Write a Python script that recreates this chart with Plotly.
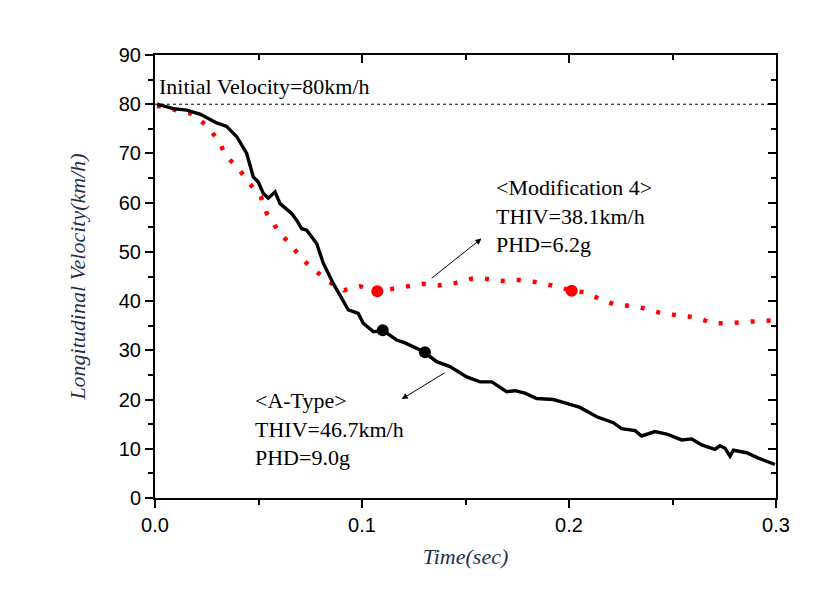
import plotly.graph_objects as go

# A-Type (black solid)
a_t = [0.001, 0.0088, 0.0153, 0.0217, 0.0298, 0.0346, 0.0395, 0.0443, 0.0475, 0.0499, 0.0523,
       0.0547, 0.058, 0.0604, 0.066, 0.0685, 0.0709, 0.0733, 0.0781, 0.0813, 0.0861, 0.091,
       0.0934, 0.0982, 0.1006, 0.1055, 0.1103, 0.1167, 0.1208, 0.1264, 0.1304, 0.1361, 0.1425,
       0.1506, 0.157, 0.1627, 0.1699, 0.1739, 0.1787, 0.1844, 0.1924, 0.1989, 0.2053, 0.2134,
       0.2214, 0.2254, 0.2319, 0.2351, 0.2383, 0.2415, 0.2472, 0.2544, 0.2593, 0.2641, 0.2705,
       0.2729, 0.2754, 0.2778, 0.2794, 0.2858, 0.2915, 0.2995]
a_v = [80.0, 79.1, 78.8, 78.0, 76.2, 75.5, 73.4, 70.0, 65.2, 64.2, 61.9,
       60.9, 62.2, 59.8, 57.8, 56.4, 54.7, 54.4, 51.7, 47.7, 43.6, 40.2,
       38.2, 37.5, 35.5, 33.8, 34.0, 32.1, 31.5, 30.4, 29.5, 27.7, 26.7,
       24.6, 23.6, 23.6, 21.6, 21.8, 21.3, 20.2, 20.0, 19.2, 18.4, 16.5,
       15.3, 14.1, 13.7, 12.6, 13.0, 13.5, 13.0, 11.8, 12.0, 10.8, 9.9,
       10.6, 10.1, 8.5, 9.7, 9.2, 8.1, 6.8]

# Modification 4 (red dotted)
m_t = [0.001, 0.0093, 0.0172, 0.0243, 0.0304, 0.0343, 0.0404, 0.0454, 0.0511, 0.054, 0.0597,
       0.066, 0.0717, 0.0765, 0.0841, 0.0913, 0.099, 0.1074, 0.1146, 0.1221, 0.1293, 0.1374,
       0.1454, 0.1535, 0.1589, 0.1675, 0.1755, 0.1836, 0.1916, 0.2013, 0.2077, 0.2155, 0.223,
       0.2316, 0.2403, 0.2448, 0.2528, 0.2614, 0.2694, 0.2778, 0.2858, 0.2939, 0.3]
m_v = [79.7, 78.9, 78.1, 75.9, 72.8, 69.5, 66.9, 64.0, 61.3, 57.8, 54.2,
       51.2, 48.3, 46.5, 43.9, 42.2, 43.0, 42.0, 42.6, 43.0, 43.5, 43.2,
       43.7, 44.6, 44.6, 44.1, 44.3, 43.9, 43.2, 42.1, 41.8, 40.3, 39.2,
       39.0, 38.1, 37.5, 37.1, 36.7, 35.5, 35.5, 35.8, 35.9, 36.1]

a_mark_t = [0.110, 0.1304]
a_mark_v = [34.1, 29.6]
m_mark_t = [0.1074, 0.2013]
m_mark_v = [42.0, 42.1]

initial_velocity = 80
x_ticks = [0.0, 0.1, 0.2, 0.3]
x_tick_labels = ["0.0", "0.1", "0.2", "0.3"]
y_ticks = [0, 10, 20, 30, 40, 50, 60, 70, 80, 90]

serif = "Liberation Serif, Times New Roman, serif"
narrow = "Liberation Sans Narrow, Arial Narrow, Liberation Sans, sans-serif"
title_color = "#1f2f4f"

fig = go.Figure()
fig.add_trace(go.Scatter(x=m_t, y=m_v, mode="lines",
                         line=dict(color="#ff0000", width=4.5, dash="4px,12px"),
                         showlegend=False))
fig.add_trace(go.Scatter(x=a_t, y=a_v, mode="lines",
                         line=dict(color="black", width=3.4), showlegend=False))
fig.add_trace(go.Scatter(x=m_mark_t, y=m_mark_v, mode="markers",
                         marker=dict(color="#ff0000", size=12), showlegend=False))
fig.add_trace(go.Scatter(x=a_mark_t, y=a_mark_v, mode="markers",
                         marker=dict(color="black", size=12), showlegend=False))
# invisible trace to keep mirrored axes
fig.add_trace(go.Scatter(x=[0], y=[0], xaxis="x2", yaxis="y2", mode="markers",
                         marker=dict(opacity=0), showlegend=False, hoverinfo="skip"))

fig.add_shape(type="line", x0=0, x1=0.3, y0=initial_velocity, y1=initial_velocity,
              xref="x", yref="y", line=dict(color="black", width=1, dash="3px,3px"))

axis_common = dict(showgrid=False, zeroline=False, showline=True, linecolor="black",
                   linewidth=2, tickcolor="black", tickwidth=1.5)

fig.update_layout(
    width=820, height=606,
    margin=dict(l=147, r=52, t=47, b=116),
    paper_bgcolor="white", plot_bgcolor="white",
    xaxis=dict(range=[0, 0.3], tickvals=x_ticks, ticktext=x_tick_labels,
               ticks="outside", ticklen=8,
               minor=dict(tickvals=[0.05, 0.15, 0.25], ticks="outside", ticklen=5,
                          tickcolor="black", tickwidth=1.5),
               tickfont=dict(family=narrow, size=20, color="black"),
               title=dict(text="<i>Time(sec)</i>", standoff=14,
                          font=dict(family=serif, size=22, color=title_color)),
               **axis_common),
    yaxis=dict(range=[0, 90], tickvals=y_ticks, ticks="outside", ticklen=8,
               minor=dict(tickvals=[5, 15, 25, 35, 45, 55, 65, 75, 85], ticks="outside",
                          ticklen=5, tickcolor="black", tickwidth=1.5),
               tickfont=dict(family=narrow, size=20, color="black"),
               title=dict(text="<i>Longitudinal Velocity(km/h)</i>", standoff=27,
                          font=dict(family=serif, size=22, color=title_color)),
               **axis_common),
    xaxis2=dict(range=[0, 0.3], overlaying="x", side="top", tickvals=x_ticks,
                showticklabels=False, ticks="inside", ticklen=8,
                minor=dict(tickvals=[0.05, 0.15, 0.25], ticks="inside", ticklen=5,
                           tickcolor="black", tickwidth=1.5),
                **axis_common),
    yaxis2=dict(range=[0, 90], overlaying="y", side="right", tickvals=y_ticks,
                showticklabels=False, ticks="inside", ticklen=8,
                minor=dict(tickvals=[5, 15, 25, 35, 45, 55, 65, 75, 85], ticks="inside",
                           ticklen=5, tickcolor="black", tickwidth=1.5),
                **axis_common),
)

ann_font = dict(family=serif, size=22, color="black")
fig.add_annotation(x=0.001, y=83.7, xref="x", yref="y", text="Initial Velocity=80km/h",
                   showarrow=False, xanchor="left", yanchor="middle", font=ann_font)
fig.add_annotation(x=0.164, y=57.2, xref="x", yref="y",
                   text="<Modification 4><br>THIV=38.1km/h<br>PHD=6.2g",
                   showarrow=False, xanchor="left", yanchor="middle", align="left",
                   font=ann_font)
fig.add_annotation(x=0.0472, y=14.1, xref="x", yref="y",
                   text="<A-Type><br>THIV=46.7km/h<br>PHD=9.0g",
                   showarrow=False, xanchor="left", yanchor="middle", align="left",
                   font=ann_font)
# arrows
fig.add_annotation(x=0.1577, y=52.7, ax=0.1329, ay=44.4, xref="x", yref="y",
                   axref="x", ayref="y", text="", showarrow=True, arrowhead=2,
                   arrowsize=1.2, arrowwidth=1, arrowcolor="black")
fig.add_annotation(x=0.1192, y=20.1, ax=0.1406, ay=25.6, xref="x", yref="y",
                   axref="x", ayref="y", text="", showarrow=True, arrowhead=2,
                   arrowsize=1.2, arrowwidth=1, arrowcolor="black")

fig.write_html("out.html")
